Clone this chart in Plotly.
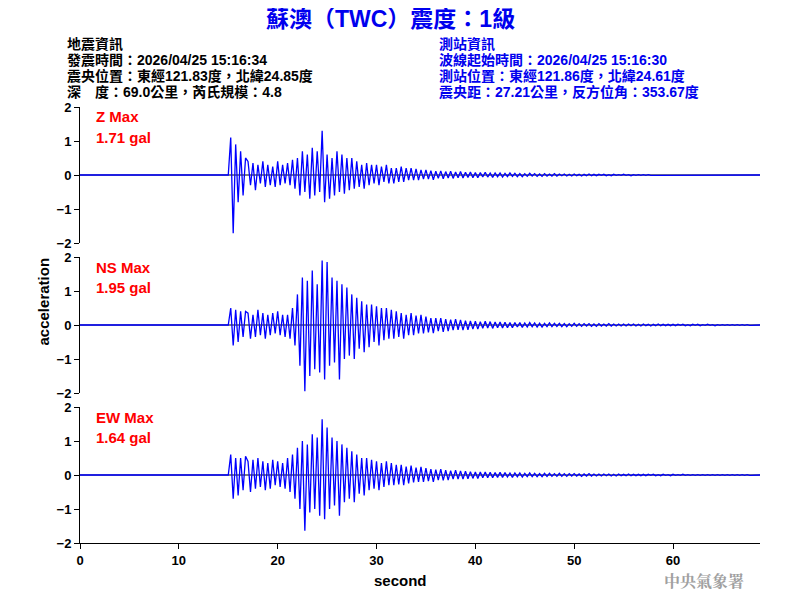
import plotly.graph_objects as go
from plotly.subplots import make_subplots

# waveform samples (gal), start at t0, one sample every dt seconds; zero before onset
t0 = 15.25
dt = 0.25
z_acc = [1.1, -1.71, 0.9, -0.8, 0.7, -0.6, 0.5,
         0.4, -0.3, 0.35, -0.45, 0.3, -0.25, 0.4, -0.35, 0.3, -0.3, 0.25, -0.35, 0.4, -0.3, 0.3, -0.25, 0.35, -0.3, 0.45, -0.4,
         0.5, -0.6, 0.7, -0.5, 0.6, -0.7, 0.8, -0.6, 0.7, -0.5, 1.3, -0.8, 0.6, -0.7, 0.5, -0.6, 0.7, -0.5, 0.6, -0.55, 0.5, -0.45, 0.5, -0.4,
         0.4, -0.35, 0.3, -0.4, 0.35, -0.3, 0.3, -0.25, 0.3, -0.3, 0.25, -0.2, 0.3, -0.25, 0.2, -0.25, 0.2, -0.2, 0.25, -0.2, 0.2, -0.15, 0.2, -0.15, 0.18, -0.15, 0.15, -0.12,
         0.15, -0.12, 0.13, -0.14, 0.11, -0.1, 0.12, -0.11, 0.1, -0.09, 0.11, -0.1, 0.09, -0.08, 0.1, -0.09, 0.08, -0.07, 0.09, -0.08,
         0.07, -0.08, 0.07, -0.06, 0.08, -0.06, 0.06, -0.07, 0.06, -0.05, 0.06, -0.06, 0.05, -0.05, 0.06, -0.04, 0.05, -0.05, 0.04, -0.05,
         0.04, -0.04, 0.05, -0.03, 0.04, -0.04, 0.03, -0.04, 0.04, -0.03, 0.03, -0.03, 0.04, -0.03, 0.03, -0.02, 0.03, -0.03, 0.02, -0.03,
         0.03, -0.02, 0.02, -0.03, 0.02, -0.02, 0.03, -0.02, 0.02, -0.02, 0.02, -0.01, 0.02, -0.02, 0.01, -0.02, 0.02, -0.01, 0.01, -0.01,
         0.02, -0.01, 0.01, -0.02, 0.01, -0.01, 0.01, -0.01, 0.01, -0.01, 0.01, -0.01]
ns_acc = [0.5, -0.6, 0.45, -0.5, 0.4, -0.35, 0.4,
          0.35, -0.4, 0.3, -0.35, 0.45, -0.3, 0.35, -0.4, 0.3, -0.3, 0.35, -0.25, 0.4, -0.3, 0.3, -0.35, 0.3, -0.4, 0.5, -0.6,
          0.9, -1.2, 1.4, -1.95, 1.3, -1.5, 1.6, -1.3, 1.2, -1.4, 1.9, -1.6, 1.85, -1.2, 1.4, -1.1, 1.3, -1.6, 1.2, -1.0, 1.1, -0.9, 0.9, -1.0,
          0.8, -0.7, 0.7, -0.8, 0.6, -0.65, 0.6, -0.5, 0.55, -0.6, 0.5, -0.45, 0.5, -0.4, 0.45, -0.4, 0.4, -0.35, 0.35, -0.4, 0.3, -0.3, 0.35, -0.3, 0.28, -0.25, 0.3, -0.25,
          0.25, -0.22, 0.2, -0.24, 0.2, -0.18, 0.2, -0.2, 0.17, -0.18, 0.16, -0.15, 0.17, -0.14, 0.15, -0.15, 0.13, -0.14, 0.12, -0.12,
          0.11, -0.12, 0.1, -0.1, 0.11, -0.09, 0.1, -0.1, 0.09, -0.08, 0.09, -0.09, 0.08, -0.08, 0.07, -0.08, 0.07, -0.06, 0.07, -0.07,
          0.06, -0.06, 0.07, -0.05, 0.06, -0.06, 0.05, -0.06, 0.05, -0.05, 0.06, -0.05, 0.05, -0.04, 0.05, -0.05, 0.04, -0.05, 0.04, -0.04,
          0.05, -0.04, 0.04, -0.04, 0.04, -0.03, 0.04, -0.04, 0.03, -0.04, 0.04, -0.03, 0.03, -0.03, 0.04, -0.03, 0.03, -0.03, 0.03, -0.03,
          0.03, -0.03, 0.03, -0.02, 0.03, -0.03, 0.02, -0.03, 0.03, -0.02, 0.02, -0.03, 0.02, -0.02, 0.03, -0.02, 0.02, -0.02, 0.02, -0.02,
          0.02, -0.02, 0.02, -0.01, 0.02, -0.02, 0.01, -0.02, 0.02, -0.01, 0.02, -0.02, 0.01, -0.01, 0.02, -0.01, 0.01, -0.02, 0.01, -0.01,
          0.01, -0.01, 0.01, -0.01, 0.01, -0.01, 0.01, -0.01, 0.01, -0.01, 0.01, -0.01]
ew_acc = [0.6, -0.7, 0.5, -0.6, 0.5, -0.45, 0.55,
          0.4, -0.5, 0.45, -0.4, 0.5, -0.35, 0.4, -0.45, 0.35, -0.4, 0.45, -0.3, 0.4, -0.35, 0.35, -0.4, 0.5, -0.5, 0.6, -0.7,
          0.8, -1.0, 1.0, -1.64, 0.9, -1.1, 1.2, -1.0, 1.1, -1.2, 1.64, -1.3, 1.4, -1.0, 1.1, -0.9, 1.0, -1.2, 0.9, -0.8, 0.8, -0.7, 0.7, -0.8,
          0.6, -0.55, 0.5, -0.6, 0.5, -0.45, 0.45, -0.4, 0.4, -0.45, 0.35, -0.35, 0.4, -0.3, 0.35, -0.3, 0.3, -0.28, 0.3, -0.3, 0.25, -0.25, 0.28, -0.22, 0.22, -0.2, 0.24, -0.2,
          0.2, -0.18, 0.17, -0.2, 0.16, -0.15, 0.17, -0.16, 0.14, -0.15, 0.13, -0.12, 0.14, -0.12, 0.12, -0.12, 0.11, -0.11, 0.1, -0.1,
          0.09, -0.1, 0.09, -0.08, 0.09, -0.08, 0.08, -0.08, 0.07, -0.07, 0.08, -0.07, 0.07, -0.06, 0.06, -0.07, 0.06, -0.05, 0.06, -0.06,
          0.05, -0.05, 0.06, -0.05, 0.05, -0.05, 0.04, -0.05, 0.05, -0.04, 0.05, -0.04, 0.04, -0.04, 0.05, -0.04, 0.04, -0.04, 0.04, -0.03,
          0.04, -0.03, 0.03, -0.04, 0.03, -0.03, 0.04, -0.03, 0.03, -0.03, 0.03, -0.03, 0.03, -0.02, 0.03, -0.03, 0.02, -0.03, 0.03, -0.02,
          0.02, -0.02, 0.03, -0.02, 0.02, -0.02, 0.02, -0.02, 0.02, -0.02, 0.02, -0.01, 0.02, -0.02, 0.01, -0.02, 0.02, -0.01, 0.01, -0.02,
          0.02, -0.01, 0.01, -0.01, 0.02, -0.01, 0.01, -0.01, 0.01, -0.01, 0.01, -0.01, 0.01, -0.01, 0.01, -0.01, 0.01, -0.01, 0.01, -0.01,
          0.01, -0.01, 0.01, -0.01, 0.01, -0.01, 0.01, -0.01, 0.01, -0.01, 0.01, -0.01]
components = ["Z", "NS", "EW"]
max_gal = ["1.71", "1.95", "1.64"]

title = "蘇澳（TWC）震度：1級"
left_info = ["地震資訊", "發震時間：2026/04/25 15:16:34", "震央位置：東經121.83度，北緯24.85度", "深　度：69.0公里，芮氏規模：4.8"]
right_info = ["測站資訊", "波線起始時間：2026/04/25 15:16:30", "測站位置：東經121.86度，北緯24.61度", "震央距：27.21公里，反方位角：353.67度"]

# page has an 8px body margin, so lay the figure out 8px up/left of the screen positions
OFF = 8
W, H = 800, 600
ML, MR, MT, MB = 80 - OFF, 40 + OFF, 107 - OFF, 57 + OFF
PW, PH = W - ML - MR, H - MT - MB


def px(x):
    return (x - OFF - ML) / PW


def py(y):
    return (H - MB - (y - OFF)) / PH


fig = make_subplots(rows=3, cols=1, shared_xaxes=False, vertical_spacing=14 / PH)
for i, acc in enumerate([z_acc, ns_acc, ew_acc]):
    t = [0, t0 - dt] + [t0 + k * dt for k in range(len(acc))] + [68.8]
    y = [0, 0] + acc + [0]
    fig.add_trace(go.Scatter(x=[0, 68.8], y=[0, 0], mode="lines", line=dict(color="black", width=1),
                             hoverinfo="skip"), row=i + 1, col=1)
    fig.add_trace(go.Scatter(x=t, y=y, mode="lines", line=dict(color="blue", width=1.3)), row=i + 1, col=1)

ax = dict(showgrid=False, zeroline=False, showline=True, linecolor="black", ticks="outside", automargin=False,
          tickcolor="black", ticklen=5, tickfont=dict(size=13, color="black", family="Liberation Sans", weight="bold"))
for r in range(1, 4):
    fig.update_yaxes(range=[-2, 2], tickvals=[-2, -1, 0, 1, 2], row=r, col=1, **ax)
    fig.update_xaxes(range=[0, 68.8], tickvals=[0, 10, 20, 30, 40, 50, 60], row=r, col=1,
                     showticklabels=(r == 3), **ax)
    if r < 3:
        fig.update_xaxes(showline=False, ticks="", row=r, col=1)

cjk = "Liberation Sans, Noto Sans CJK TC"
ann = [dict(x=px(390), y=py(19), text="<b>" + title + "</b>", font=dict(size=23, color="#0000ee", family=cjk))]
for j, s in enumerate(left_info):
    ann.append(dict(x=px(65), y=py(44 + 16 * j), text="<b>" + s + "</b>", xanchor="left", font=dict(size=14, color="black", family=cjk)))
for j, s in enumerate(right_info):
    ann.append(dict(x=px(437), y=py(44 + 16 * j), text="<b>" + s + "</b>", xanchor="left", font=dict(size=14, color="#0000ee", family=cjk)))
for i, c in enumerate(components):
    ann.append(dict(x=px(94), y=py(117 + 150 * i), text="<b>" + c + " Max</b>", xanchor="left", font=dict(size=15, color="red")))
    ann.append(dict(x=px(94), y=py(137 + 150 * i), text="<b>" + max_gal[i] + " gal</b>", xanchor="left", font=dict(size=15, color="red")))
ann.append(dict(x=px(400), y=py(580), text="<b>second</b>", font=dict(size=15, color="black")))
ann.append(dict(x=px(32), y=py(302), text="<b>acceleration</b>", textangle=-90, font=dict(size=15, color="black")))
ann.append(dict(x=px(746), y=py(580), text="<b>中央氣象署</b>", xanchor="right",
                font=dict(size=16, color="#a0a0a0", family="Noto Serif CJK TC, Noto Sans CJK TC")))
for a in ann:
    a.update(xref="paper", yref="paper", showarrow=False, yanchor="middle")
    a["font"].setdefault("family", "Liberation Sans")

fig.update_layout(width=W, height=H, margin=dict(l=ML, r=MR, t=MT, b=MB), showlegend=False,
                  plot_bgcolor="white", paper_bgcolor="white", annotations=ann)
fig.write_html("out.html")
